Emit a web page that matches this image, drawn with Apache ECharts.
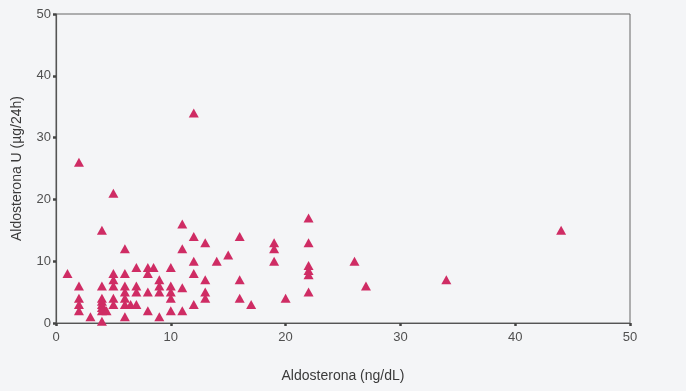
<!DOCTYPE html>
<html>
<head>
<meta charset="utf-8">
<script src="https://cdn.jsdelivr.net/npm/echarts@6/dist/echarts.min.js"></script>
<style>
  html, body { margin: 0; padding: 0; background: #f4f5f7; }
  #chart { width: 686px; height: 391px; }
</style>
</head>
<body>
<div id="chart"></div>
<script>
// Plasma aldosterone (ng/dL) vs urinary aldosterone (µg/24h)
const aldoPlasma = [
  1,
  2, 2, 2, 2, 2,
  3,
  4, 4, 4, 4, 4, 4, 4, 4,
  4.4,
  5, 5, 5, 5, 5, 5,
  6, 6, 6, 6, 6, 6, 6,
  6.5,
  7, 7, 7, 7,
  8, 8, 8, 8,
  8.5,
  9, 9, 9, 9,
  10, 10, 10, 10, 10,
  11, 11, 11, 11,
  12, 12, 12, 12, 12,
  13, 13, 13, 13,
  14,
  15,
  16, 16, 16,
  17,
  19, 19, 19,
  20,
  22, 22, 22, 22, 22, 22,
  26,
  27,
  34,
  44
];
const aldoUrine = [
  8,
  26, 6, 4, 3, 2,
  1,
  15, 6, 4, 3.5, 3, 2.5, 2, 0.3,
  2,
  21, 8, 7, 6, 4, 3,
  12, 8, 6, 5, 4, 3, 1,
  3,
  9, 6, 5, 3,
  9, 8, 5, 2,
  9,
  7, 6, 5, 1,
  9, 6, 5, 4, 2,
  16, 12, 5.7, 2,
  34, 14, 10, 8, 3,
  13, 7, 5, 4,
  10,
  11,
  14, 7, 4,
  3,
  13, 12, 10,
  4,
  17, 13, 9.3, 8.5, 7.8, 5,
  10,
  6,
  7,
  15
];
const xTicks = [0, 10, 20, 30, 40, 50];
const yTicks = [0, 10, 20, 30, 40, 50];

const points = aldoPlasma.map((x, i) => [x, aldoUrine[i]]);

const axisCommon = {
  axisLine: { show: true, onZero: false, lineStyle: { color: '#555', width: 1.2 } },
  axisTick: { show: true, length: 3, lineStyle: { color: '#444', width: 2.5 } },
  axisLabel: { color: '#505050', fontSize: 13, fontFamily: 'Liberation Sans, Arial, sans-serif' },
  splitLine: { show: false },
  nameLocation: 'middle',
  nameTextStyle: { color: '#3a3a3a', fontSize: 14, fontFamily: 'Liberation Sans, Arial, sans-serif' }
};

const chart = echarts.init(document.getElementById('chart'), null, { renderer: 'canvas' });
chart.setOption({
  backgroundColor: '#f4f5f7',
  animation: false,
  grid: {
    left: 56, right: 56, top: 14, bottom: 68,
    show: true, borderColor: '#666', borderWidth: 1, backgroundColor: 'transparent'
  },
  xAxis: Object.assign({}, axisCommon, {
    type: 'value', min: xTicks[0], max: xTicks[xTicks.length - 1], interval: 10,
    name: 'Aldosterona (ng/dL)', nameGap: 46,
    axisLabel: Object.assign({}, axisCommon.axisLabel, { margin: 8 })
  }),
  yAxis: Object.assign({}, axisCommon, {
    type: 'value', min: yTicks[0], max: yTicks[yTicks.length - 1], interval: 10,
    name: 'Aldosterona U (µg/24h)', nameGap: 32,
    axisLabel: Object.assign({}, axisCommon.axisLabel, { margin: 5 })
  }),
  series: [{
    type: 'scatter',
    data: points,
    symbol: 'triangle',
    symbolSize: [10, 9],
    itemStyle: { color: '#cf2c64', opacity: 1 }
  }]
});
</script>
</body>
</html>
